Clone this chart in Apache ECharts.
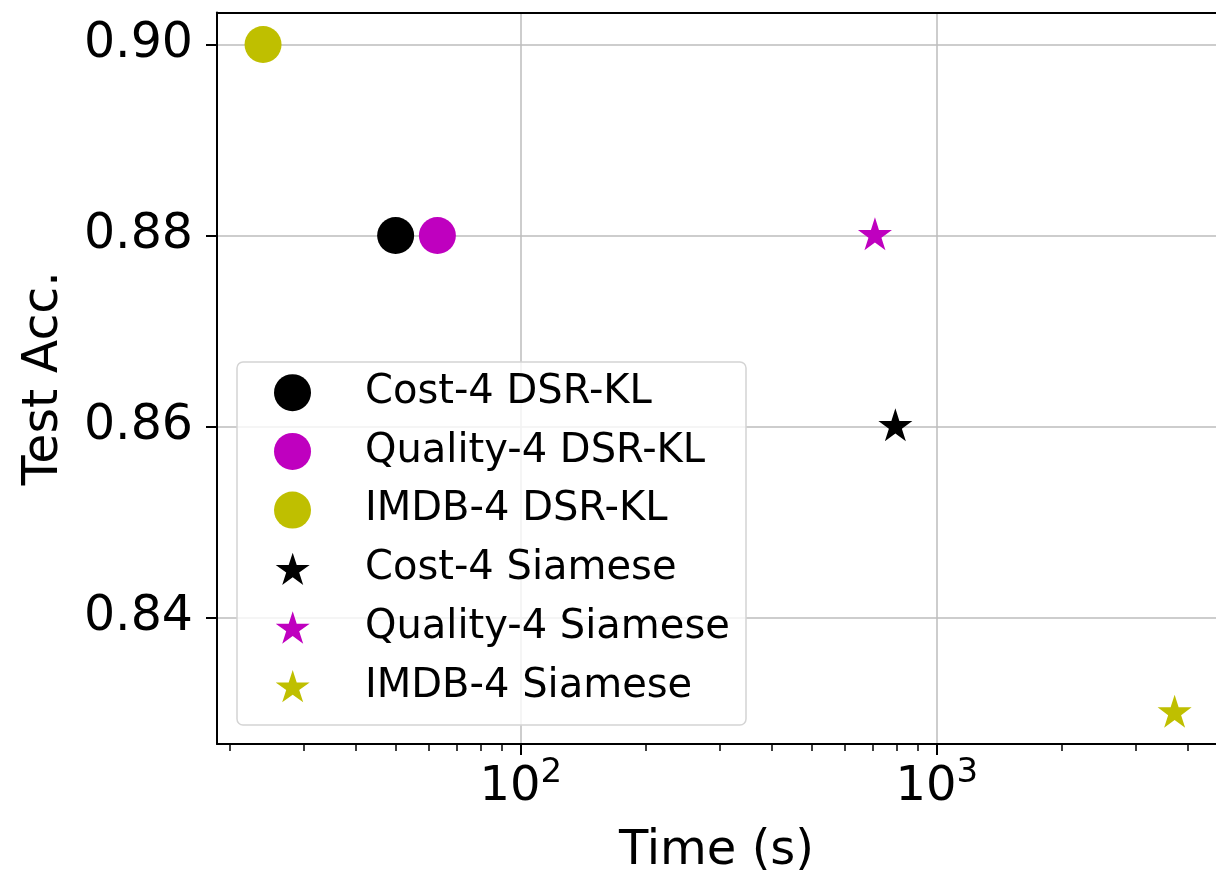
<!DOCTYPE html>
<html>
<head>
<meta charset="utf-8">
<script src="https://cdn.jsdelivr.net/npm/echarts@6/dist/echarts.min.js"></script>
<style>
html,body{margin:0;padding:0;background:#fff;}
#chart{width:1216px;height:875px;}
</style>
</head>
<body>
<div id="chart"></div>
<script>
// ---- data ----
const seriesNames = ['Cost-4 DSR-KL', 'Quality-4 DSR-KL', 'IMDB-4 DSR-KL', 'Cost-4 Siamese', 'Quality-4 Siamese', 'IMDB-4 Siamese'];
const timeSec = [50, 63, 24, 795, 710, 3730];
const testAcc = [0.88, 0.88, 0.90, 0.86, 0.88, 0.83];
const markerKind = ['circle', 'circle', 'circle', 'star', 'star', 'star'];
const seriesColors = ['#000000', '#bf00bf', '#bfbf00', '#000000', '#bf00bf', '#bfbf00'];
const yTicks = [0.84, 0.86, 0.88, 0.90];
const xMajorTicks = [100, 1000];
const xMinorTicks = [20, 30, 40, 50, 60, 70, 80, 90, 200, 300, 400, 500, 600, 700, 800, 900, 2000, 3000, 4000];
const xRange = [18.6, 4690];
const yRange = [0.82675, 0.90335];

const FONT = 'DejaVu Sans';
const STAR = 'path://M100,0L122.45,69.1L195.11,69.1L136.33,111.8L158.78,180.9L100,138.2L41.22,180.9L63.67,111.8L4.89,69.1L77.55,69.1Z';

const series = seriesNames.map((name, i) => ({
  name: name,
  type: 'scatter',
  data: [[timeSec[i], testAcc[i]]],
  symbol: markerKind[i] === 'circle' ? 'circle' : STAR,
  symbolSize: markerKind[i] === 'circle' ? 37 : [34, 33],
  symbolOffset: markerKind[i] === 'circle' ? [0, 0] : [0, -1.7],
  itemStyle: { color: seriesColors[i], opacity: 1 },
  emphasis: { disabled: true },
  z: 5
}));

const supMap = { 100: '2', 1000: '3' };

const legendText = (gap) => ({
  color: '#000',
  fontFamily: FONT,
  fontSize: 40,
  lineHeight: 40,
  rich: {
    g: { width: gap, fontSize: 40, lineHeight: 40 },
    n: { fontFamily: FONT, fontSize: 40, lineHeight: 40, color: '#000' }
  }
});

const option = {
  backgroundColor: '#ffffff',
  animation: false,
  grid: { left: 217, top: 12.5, right: 0, bottom: 131, containLabel: false, outerBoundsMode: 'none' },
  xAxis: [
    {
      type: 'log', logBase: 10, min: xRange[0], max: xRange[1], position: 'bottom',
      name: 'Time (s)', nameLocation: 'middle', nameGap: 84,
      nameTextStyle: { fontFamily: FONT, fontSize: 48, color: '#000' },
      axisLine: { show: true, lineStyle: { color: '#000', width: 2 } },
      axisTick: { show: true, inside: false, length: 11, lineStyle: { color: '#000', width: 2 }, customValues: xMajorTicks },
      axisLabel: {
        show: true, margin: 12, customValues: xMajorTicks,
        formatter: function (v) {
          const k = Math.round(v);
          return '{b|10}{s|' + (supMap[k] || '') + '}';
        },
        rich: {
          b: { fontFamily: FONT, fontSize: 48, lineHeight: 56, verticalAlign: 'bottom', color: '#000' },
          s: { fontFamily: FONT, fontSize: 34, lineHeight: 34, verticalAlign: 'top', color: '#000' }
        }
      },
      splitLine: { show: true, lineStyle: { color: '#bdbdbd', width: 1.5 } },
      minorTick: { show: false }
    },
    {
      type: 'log', logBase: 10, min: xRange[0], max: xRange[1], position: 'bottom', offset: 0,
      axisLine: { show: false },
      axisTick: { show: true, inside: false, length: 7, lineStyle: { color: '#000', width: 1.5 }, customValues: xMinorTicks },
      axisLabel: { show: false },
      splitLine: { show: false }
    },
    {
      type: 'log', logBase: 10, min: xRange[0], max: xRange[1], position: 'top', offset: 0,
      axisLine: { show: true, lineStyle: { color: '#000', width: 2 } },
      axisTick: { show: false },
      axisLabel: { show: false },
      splitLine: { show: false }
    }
  ],
  yAxis: [
    {
      type: 'value', min: yRange[0], max: yRange[1], position: 'left',
      name: 'Test Acc.', nameLocation: 'middle', nameGap: 148,
      nameTextStyle: { fontFamily: FONT, fontSize: 49, color: '#000' },
      axisLine: { show: true, lineStyle: { color: '#000', width: 2 } },
      axisTick: { show: true, inside: false, length: 11, lineStyle: { color: '#000', width: 2 }, customValues: yTicks },
      axisLabel: {
        show: true, margin: 24, customValues: yTicks,
        fontFamily: FONT, fontSize: 49, color: '#000',
        formatter: v => v.toFixed(2)
      },
      splitLine: { show: true, lineStyle: { color: '#bdbdbd', width: 1.5 } }
    }
  ],
  graphic: [
    {
      type: 'rect', z: 3,
      shape: { x: 237, y: 362, width: 509, height: 363, r: 6 },
      style: { fill: 'rgba(255,255,255,0.8)', stroke: '#d4d4d4', lineWidth: 1.5 }
    }
  ],
  legend: [
    {
      data: seriesNames.slice(0, 3).map(n => ({ name: n, icon: 'circle' })),
      orient: 'vertical', left: 274, top: 372.7, padding: 0,
      itemWidth: 37, itemHeight: 37, itemGap: 18.7,
      selectedMode: false, z: 6,
      formatter: n => '{g|}{n|' + n + '}',
      textStyle: legendText(49)
    },
    {
      data: seriesNames.slice(3).map(n => ({ name: n, icon: STAR })),
      orient: 'vertical', left: 275.7, top: 548.8, padding: 0,
      itemWidth: 34, itemHeight: 33, itemGap: 18.7,
      selectedMode: false, z: 6,
      formatter: n => '{g|}{n|' + n + '}',
      textStyle: legendText(50.3)
    }
  ],
  series: series
};

const chart = echarts.init(document.getElementById('chart'), null, { renderer: 'canvas' });
chart.setOption(option);
</script>
</body>
</html>
